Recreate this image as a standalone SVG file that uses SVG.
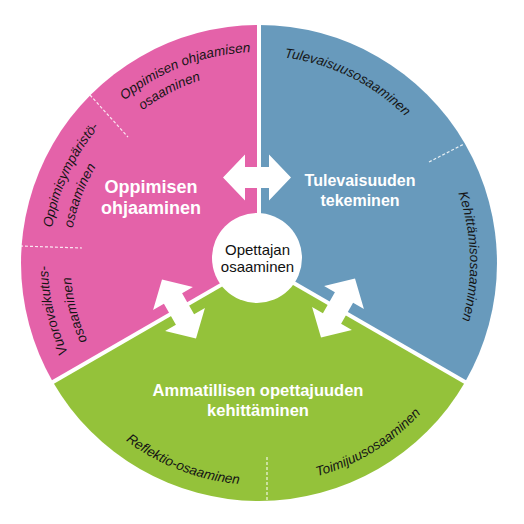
<svg xmlns="http://www.w3.org/2000/svg" xmlns:xlink="http://www.w3.org/1999/xlink" width="524" height="524" viewBox="0 0 524 524">
<style>
.title{font-family:"Liberation Sans",Arial,sans-serif;font-weight:bold;fill:#fff;text-anchor:middle}
.lab{font-family:"Liberation Sans",Arial,sans-serif;font-style:italic;font-size:13.5px;fill:#151515}
.dash{stroke:#fff;stroke-width:1.2;stroke-dasharray:3 2;opacity:0.85;fill:none}
.sep{stroke:#fff;stroke-width:4;fill:none}
.arrow{fill:#fff}
.ctext{font-family:"Liberation Sans",Arial,sans-serif;font-size:15px;fill:#111;text-anchor:middle}
</style>
<defs>
<path id="dblarrow" d="M-34,0 L-12,-23 L-12,-10.5 L12,-10.5 L12,-23 L34,0 L12,23 L12,10.5 L-12,10.5 L-12,23 Z"/>
<path id="pA" d="M208.92,62.15 A207,207 0 0 1 448.1,178.81"/>
<path id="pB1" d="M74.46,160.71 A211,211 0 0 1 327.7,63.5"/>
<path id="pB2" d="M81.61,189.52 A192,192 0 0 1 300.55,75.55"/>
<path id="pC1" d="M56.16,317.35 A210,210 0 0 1 170.25,72.68"/>
<path id="pC2" d="M80.26,325.95 A189.5,189.5 0 0 1 165.97,97.91"/>
<path id="pD1" d="M132.02,431.5 A211,211 0 0 1 71,167.21"/>
<path id="pD2" d="M149.01,416.08 A188.5,188.5 0 0 1 89.14,181.25"/>
<path id="pE" d="M416.3,122.37 A211,211 0 0 1 424.89,393.48"/>
<path id="pF" d="M64.84,370.63 A222,222 0 0 0 331.28,472.9"/>
<path id="pG" d="M225.19,481.39 A221,221 0 0 0 468.2,334.23"/>
</defs>

<g id="node-oppimisen">
<path d="M259,263 L52.9,382 A238,238 0 0 1 259,25 Z" fill="#E462A9"/>
<line class="dash" x1="90" y1="95" x2="128" y2="137"/>
<line class="dash" x1="20" y1="246" x2="82" y2="248"/>
<text class="title" font-size="18"><tspan x="151" y="193">Oppimisen</tspan><tspan x="151" y="214">ohjaaminen</tspan></text>
<text class="lab"><textPath xlink:href="#pB1" href="#pB1" startOffset="50%" text-anchor="middle">Oppimisen ohjaamisen</textPath></text>
<text class="lab"><textPath xlink:href="#pB2" href="#pB2" startOffset="50%" text-anchor="middle">osaaminen</textPath></text>
<text class="lab"><textPath xlink:href="#pC1" href="#pC1" startOffset="50%" text-anchor="middle">Oppimisympäristö-</textPath></text>
<text class="lab"><textPath xlink:href="#pC2" href="#pC2" startOffset="50%" text-anchor="middle">osaaminen</textPath></text>
<text class="lab"><textPath xlink:href="#pD1" href="#pD1" startOffset="50%" text-anchor="middle">Vuorovaikutus-</textPath></text>
<text class="lab"><textPath xlink:href="#pD2" href="#pD2" startOffset="50%" text-anchor="middle">osaaminen</textPath></text>
</g>

<g id="node-tulevaisuuden">
<path d="M259,263 L259,25 A238,238 0 0 1 465.1,382 Z" fill="#689ABC"/>
<line class="dash" x1="429" y1="162" x2="464" y2="144"/>
<text class="title" font-size="16"><tspan x="360" y="186">Tulevaisuuden</tspan><tspan x="360" y="206">tekeminen</tspan></text>
<text class="lab"><textPath xlink:href="#pA" href="#pA" startOffset="50%" text-anchor="middle">Tulevaisuusosaaminen</textPath></text>
<text class="lab"><textPath xlink:href="#pE" href="#pE" startOffset="50%" text-anchor="middle">Kehittämisosaaminen</textPath></text>
</g>

<g id="node-ammatillisen">
<path d="M259,263 L465.1,382 A238,238 0 0 1 52.9,382 Z" fill="#94C23A"/>
<line class="dash" x1="267" y1="457" x2="267" y2="501"/>
<text class="title" font-size="16.5"><tspan x="258" y="395.5">Ammatillisen opettajuuden</tspan><tspan x="258" y="416">kehittäminen</tspan></text>
<text class="lab"><textPath xlink:href="#pF" href="#pF" startOffset="50%" text-anchor="middle">Reflektio-osaaminen</textPath></text>
<text class="lab"><textPath xlink:href="#pG" href="#pG" startOffset="50%" text-anchor="middle">Toimijuusosaaminen</textPath></text>
</g>

<g id="separators">
<line class="sep" x1="259" y1="263" x2="259" y2="23"/>
<line class="sep" x1="259" y1="263" x2="466.8" y2="383"/>
<line class="sep" x1="259" y1="263" x2="51.2" y2="383"/>
</g>

<g id="connectors">
<use href="#dblarrow" xlink:href="#dblarrow" class="arrow" transform="translate(257,177.5)"/>
<use href="#dblarrow" xlink:href="#dblarrow" class="arrow" transform="translate(179,309) rotate(60)"/>
<use href="#dblarrow" xlink:href="#dblarrow" class="arrow" transform="translate(338,308) rotate(-60)"/>
</g>

<g id="node-center">
<circle cx="257" cy="258" r="45" fill="#fff"/>
<text class="ctext"><tspan x="257.5" y="255">Opettajan</tspan><tspan x="257.5" y="272">osaaminen</tspan></text>
</g>
</svg>
